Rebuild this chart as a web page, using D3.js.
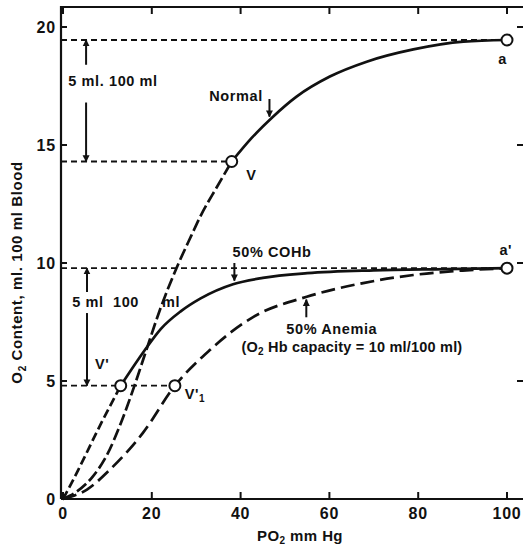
<!DOCTYPE html>
<html>
<head>
<meta charset="utf-8">
<script src="https://cdn.jsdelivr.net/npm/d3@7"></script>
<style>
  body { margin: 0; background: #fff; }
  svg { display: block; font-family: "Liberation Sans", Arial, sans-serif; }
</style>
</head>
<body>
<div id="chart"></div>
<script>
// O2 content (ml/100 ml blood) vs PO2 (mm Hg)
const normalCurve = [[0,0],[3,0.3],[6.7,0.95],[10,1.9],[13,3.2],[16,4.75],[18.4,6.1],[21.8,8.0],
  [25.6,9.8],[29,11.2],[31,12.0],[34.6,13.2],[38,14.3],[42.5,15.3],[47.3,16.2],[52.6,17.05],
  [60.1,17.9],[68.4,18.53],[78.9,19.05],[90.2,19.38],[100,19.45]];
const cohbCurve = [[0,0],[2,0.7],[4,1.45],[8.3,3.1],[13,4.8],[18.4,6.3],[22,7.2],[26.5,7.95],
  [31,8.5],[38.3,9.1],[45,9.37],[55,9.57],[70,9.69],[86,9.74],[100,9.78]];
const anemiaCurve = [[0,0],[5.4,0.4],[10.6,1.25],[18,2.8],[25.2,4.8],[33,6.3],[42.9,7.72],
  [54.9,8.57],[67.6,9.15],[78.9,9.49],[90,9.68],[100,9.78]];

// marked points: arterial (a, a') and venous (V, V', V'1)
const points = [[100,19.45],[38,14.3],[100,9.78],[13,4.8],[25.2,4.8]];
// dashed reference levels: [y, x end]
const refLines = [[19.45,100],[14.3,38],[9.78,100],[4.8,25.2]];

const xTicks = [0,20,40,60,80,100];
const yTicks = [0,5,10,15,20];

const width = 523, height = 551;
const x = d3.scaleLinear().domain([0,100]).range([63,507]);
const y = d3.scaleLinear().domain([0,20]).range([499,27]);

const svg = d3.select("#chart").append("svg")
    .attr("width", width)
    .attr("height", height);

svg.append("defs").append("marker")
    .attr("id", "arrow")
    .attr("viewBox", "0 0 10 10")
    .attr("refX", 9).attr("refY", 5)
    .attr("markerWidth", 7).attr("markerHeight", 8)
    .attr("markerUnits", "userSpaceOnUse")
    .attr("orient", "auto")
  .append("path")
    .attr("d", "M0,0 L10,5 L0,10 Z")
    .attr("fill", "#111");

// frame
const fLeft = 61, fRight = 523, fTop = 7, fBottom = 499;
svg.append("path")
    .attr("d", `M${fLeft},${fBottom} V${fTop} H${fRight} M${fLeft},${fBottom} H${fRight}`)
    .attr("fill", "none").attr("stroke", "#111").attr("stroke-width", 2.2);

// ticks inward on all sides
const tickG = svg.append("g").attr("stroke", "#111").attr("stroke-width", 2);
xTicks.forEach(t => {
  tickG.append("line").attr("x1", x(t)).attr("x2", x(t)).attr("y1", fBottom).attr("y2", fBottom - 7);
  tickG.append("line").attr("x1", x(t)).attr("x2", x(t)).attr("y1", fTop).attr("y2", fTop + 7);
});
yTicks.filter(t => t > 0).forEach(t => {
  tickG.append("line").attr("x1", fLeft).attr("x2", fLeft + 6).attr("y1", y(t)).attr("y2", y(t));
  tickG.append("line").attr("x1", fRight - 6).attr("x2", fRight).attr("y1", y(t)).attr("y2", y(t));
});

const labelG = svg.append("g").attr("fill", "#111").attr("font-size", 16)
    .attr("font-weight", "bold").attr("letter-spacing", 0.8);
xTicks.forEach(t => {
  labelG.append("text").attr("x", x(t)).attr("y", fBottom + 20)
      .attr("text-anchor", "middle").text(t);
});
yTicks.forEach(t => {
  labelG.append("text").attr("x", 56).attr("y", y(t) + 6)
      .attr("text-anchor", "end").text(t);
});

// axis titles
svg.append("text")
    .attr("transform", `translate(22,${y(9.6)}) rotate(-90)`)
    .attr("text-anchor", "middle").attr("font-size", 15).attr("font-weight", "bold")
    .attr("letter-spacing", 0.6).attr("fill", "#111")
    .html('O<tspan font-size="10" dy="4">2</tspan><tspan dy="-4"> Content, ml. 100 ml Blood</tspan>');
svg.append("text")
    .attr("x", 300).attr("y", 541)
    .attr("text-anchor", "middle").attr("font-size", 15).attr("font-weight", "bold")
    .attr("letter-spacing", 0.4).attr("fill", "#111")
    .html('PO<tspan font-size="10" dy="3">2</tspan><tspan dy="-3"> mm Hg</tspan>');

// reference dashed lines
svg.append("g").selectAll("line")
  .data(refLines)
  .join("line")
    .attr("x1", fLeft).attr("x2", d => x(d[1]))
    .attr("y1", d => y(d[0])).attr("y2", d => y(d[0]))
    .attr("stroke", "#111").attr("stroke-width", 1.8)
    .attr("stroke-dasharray", "6,4");

// curves
const line = d3.line().x(d => x(d[0])).y(d => y(d[1])).curve(d3.curveMonotoneX);
const curves = [
  { data: normalCurve.filter(d => d[0] <= 38), dash: "12,4" },
  { data: normalCurve.filter(d => d[0] >= 38), dash: null },
  { data: cohbCurve.filter(d => d[0] <= 13), dash: "9,4" },
  { data: cohbCurve.filter(d => d[0] >= 13), dash: null },
  { data: anemiaCurve, dash: "14,6" }
];
svg.append("g").selectAll("path")
  .data(curves)
  .join("path")
    .attr("d", d => line(d.data))
    .attr("fill", "none").attr("stroke", "#111").attr("stroke-width", 2.7)
    .attr("stroke-dasharray", d => d.dash);

// open circles
svg.append("g").selectAll("circle")
  .data(points)
  .join("circle")
    .attr("cx", d => x(d[0])).attr("cy", d => y(d[1])).attr("r", 5.5)
    .attr("fill", "#fff").attr("stroke", "#111").attr("stroke-width", 2);

// arrows: [x, y from, y to]
const arrows = [[5.2,18.4,19.45],[5.2,16.8,14.3],[5.4,8.77,9.78],[5.4,7.88,4.8],
  [46.5,16.95,16.2],[38.6,10.0,9.25],[54.8,7.7,8.45]];
svg.append("g").selectAll("line")
  .data(arrows)
  .join("line")
    .attr("x1", d => x(d[0])).attr("x2", d => x(d[0]))
    .attr("y1", d => y(d[1])).attr("y2", d => y(d[2]))
    .attr("stroke", "#111").attr("stroke-width", 2)
    .attr("marker-end", "url(#arrow)");

// annotations
const notes = [
  { x: 1.2, y: 17.5, t: "5 ml. 100 ml" },
  { x: 2.1, y: 8.15, t: "5 ml&#160;&#160;100&#160;&#160;&#160;&#160;&#160;ml" },
  { x: 45, y: 16.85, t: "Normal", anchor: "end" },
  { x: 41.3, y: 13.5, t: "V" },
  { x: 99, y: 18.45, t: "a", anchor: "middle" },
  { x: 98.3, y: 10.35, t: "a'" },
  { x: 38.2, y: 10.25, t: "50% COHb" },
  { x: 50.3, y: 7.0, t: "50% Anemia" },
  { x: 40.2, y: 6.22, t: '(O<tspan font-size="10" dy="3">2</tspan><tspan dy="-3"> Hb capacity = 10 ml/100 ml)</tspan>', ls: 0.2 },
  { x: 7.2, y: 5.5, t: "V'" },
  { x: 27.4, y: 4.25, t: 'V\'<tspan font-size="10" dy="3">1</tspan>' }
];
svg.append("g").selectAll("text")
  .data(notes)
  .join("text")
    .attr("x", d => x(d.x)).attr("y", d => y(d.y))
    .attr("font-size", 14.5)
    .attr("font-weight", "bold")
    .attr("letter-spacing", d => d.ls != null ? d.ls : 0.6)
    .attr("text-anchor", d => d.anchor || "start")
    .attr("fill", "#111")
    .html(d => d.t);
</script>
</body>
</html>
